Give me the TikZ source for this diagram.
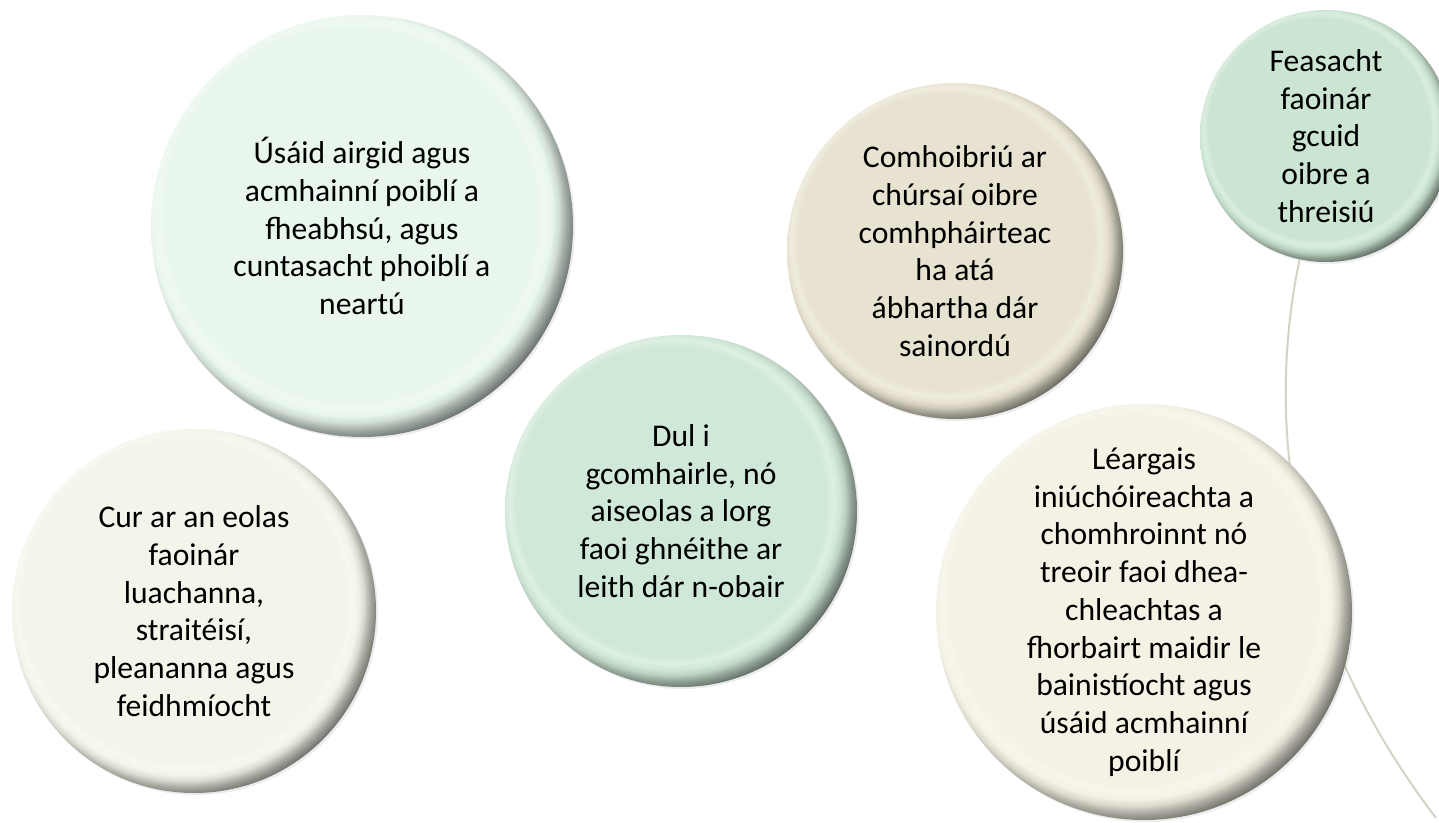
\documentclass[tikz,border=0pt]{standalone}
\usepackage{fontspec}
\setmainfont{Carlito}
\usetikzlibrary{shadows}
\colorlet{bubblecol}{white}
\pgfdeclareradialshading[bubblecol]{bubbleshade}{\pgfpoint{-2.5bp}{2.5bp}}{color(0bp)=(bubblecol); color(22bp)=(bubblecol); color(23bp)=(bubblecol!70!white); color(23.8bp)=(bubblecol); color(24.6bp)=(bubblecol!90!black); color(25.4bp)=(bubblecol!70!black); color(26.5bp)=(bubblecol!48!black); color(50bp)=(bubblecol!48!black)}
\definecolor{mintpale}{HTML}{E8F6ED}
\definecolor{mint}{HTML}{D0E8D7}
\definecolor{mintdeep}{HTML}{CBE5D2}
\definecolor{ivory}{HTML}{F5F4EA}
\definecolor{cream}{HTML}{F4F2E4}
\definecolor{beige}{HTML}{E8E3D1}
\definecolor{arcgray}{HTML}{D6D2C6}
\tikzset{
  bubble color/.code={\colorlet{bubblecol}{#1}},
  bubble/.style 2 args={circle, minimum size=#1, inner sep=-20pt, align=center,
    bubble color=#2, shading=bubbleshade, text=black,
    drop shadow={shadow xshift=1pt, shadow yshift=-1pt, opacity=0.15},
    font=\fontsize{15.8pt}{18.85pt}\selectfont}
}
\begin{document}
\begin{tikzpicture}[x=0.5pt,y=-0.5pt]
\useasboundingbox (0,0) rectangle (1439,823);
\node[bubble={126pt}{mintdeep}] (feasacht) at (1326,136) {Feasacht\\faoinár\\gcuid\\oibre a\\threisiú};
\coordinate (arcend) at (1436,818);
\draw[arcgray, line width=1pt] (feasacht) .. controls (1276,370) and (1262,590) .. (arcend);

\node[bubble={211pt}{mintpale}] (usaid) at (362,226) {Úsáid airgid agus\\acmhainní poiblí a\\fheabhsú, agus\\cuntasacht phoiblí a\\neartú};
\node[bubble={182pt}{ivory}] (eolas) at (194,611) {Cur ar an eolas\\faoinár\\luachanna,\\straitéisí,\\pleananna agus\\feidhmíocht};
\node[bubble={176pt}{mint}] (comhairle) at (681,511) {Dul i\\gcomhairle, nó\\aiseolas a lorg\\faoi ghnéithe ar\\leith dár n-obair};
\node[bubble={168pt}{beige}] (comhoibriu) at (955,251) {Comhoibriú ar\\chúrsaí oibre\\comhpháirteac\\ha atá\\ábhartha dár\\sainordú};
\node[bubble={208pt}{cream}] (leargais) at (1144,612) {Léargais\\iniúchóireachta a\\chomhroinnt nó\\treoir faoi dhea-\\chleachtas a\\fhorbairt maidir le\\bainistíocht agus\\úsáid acmhainní\\poiblí};
\end{tikzpicture}
\end{document}
